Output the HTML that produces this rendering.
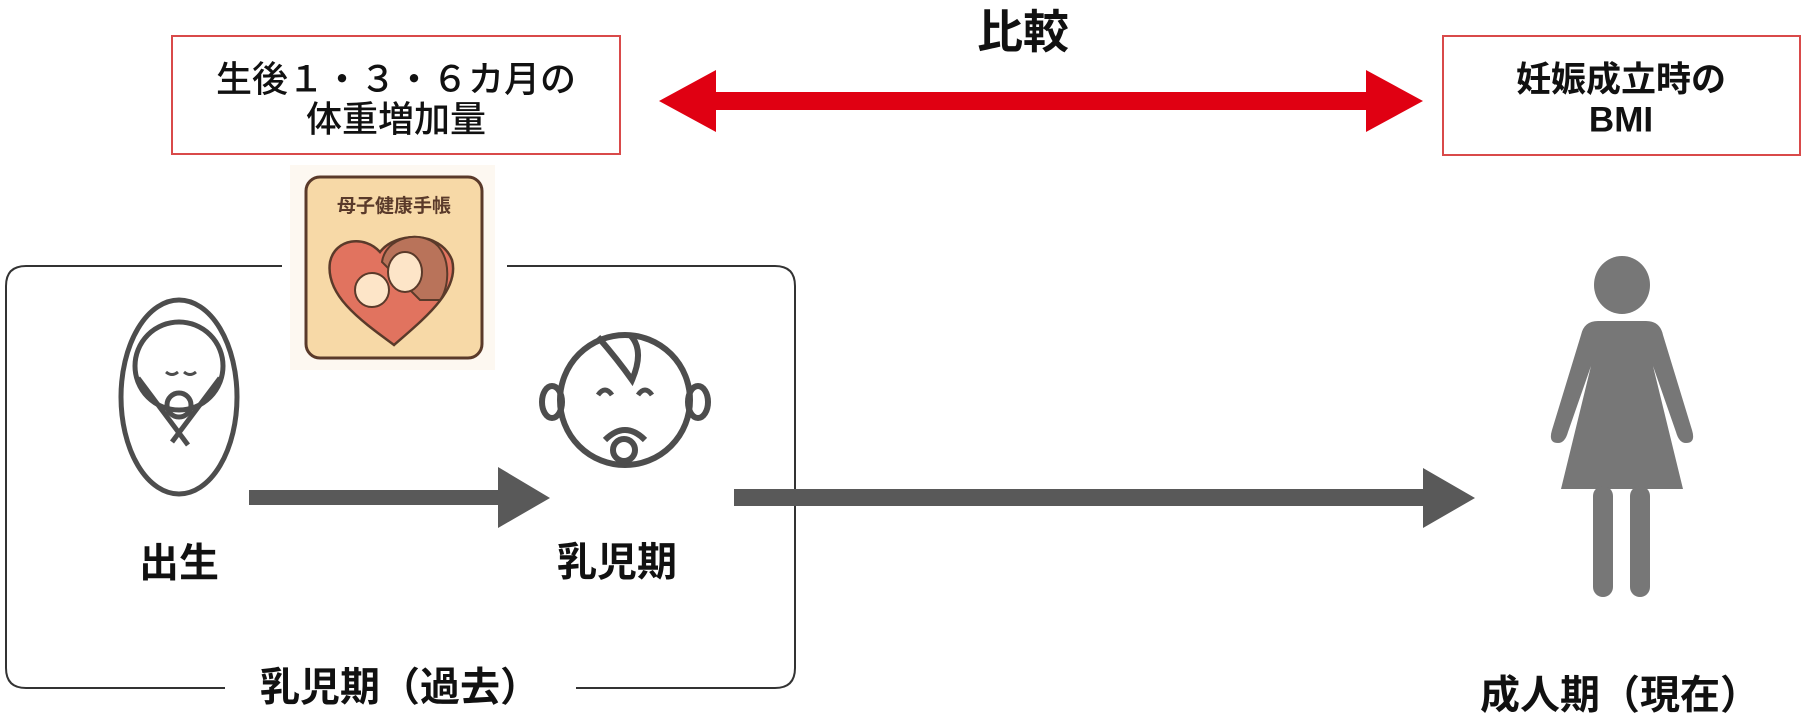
<!DOCTYPE html>
<html><head><meta charset="utf-8"><style>
html,body{margin:0;padding:0;background:#fff;}
svg{display:block;}
text{font-family:"Liberation Sans","Noto Sans CJK JP",sans-serif;font-weight:bold;fill:#111;}
</style></head><body>
<svg width="1806" height="720" viewBox="0 0 1806 720" xmlns="http://www.w3.org/2000/svg">
<rect x="172" y="36" width="448" height="118" fill="#fff" stroke="#d94a4a" stroke-width="2"/>
<text x="396" y="82" font-size="36" text-anchor="middle" dominant-baseline="middle" style="font-weight:500">生後１・３・６カ月の</text>
<text x="396" y="122" font-size="36" text-anchor="middle" dominant-baseline="middle" style="font-weight:500">体重増加量</text>
<rect x="1443" y="36" width="357" height="119" fill="#fff" stroke="#d94a4a" stroke-width="2"/>
<text x="1621" y="82" font-size="35" text-anchor="middle" dominant-baseline="middle" font-weight="normal">妊娠成立時の</text>
<text x="1621" y="122" font-size="35" text-anchor="middle" dominant-baseline="middle" font-weight="normal">BMI</text>
<text x="1023" y="36" font-size="46" text-anchor="middle" dominant-baseline="middle">比較</text>
<polygon points="659,101 716,70 716,92 1366,92 1366,70 1423,101 1366,132 1366,110 716,110 716,132" fill="#e00012"/>
<path d="M282,266 H26 Q6,266 6,286 V668 Q6,688 26,688 H225" fill="none" stroke="#333" stroke-width="2"/>
<path d="M507,266 H775 Q795,266 795,286 V668 Q795,688 775,688 H576" fill="none" stroke="#333" stroke-width="2"/>
<text x="400" y="690" font-size="40" text-anchor="middle" dominant-baseline="middle">乳児期（過去）</text>
<rect x="290" y="165" width="205" height="205" fill="#fdf8f1"/>
<rect x="306" y="177" width="176" height="181" rx="14" fill="#f7d9a7" stroke="#5a3a2a" stroke-width="3"/>
<text x="394" y="207" font-size="19" text-anchor="middle" dominant-baseline="middle" style="fill:#5a3a2a">母子健康手帳</text>
<path d="M394,345 C360,320 325,295 330,262 C335,238 365,235 380,252 C395,232 440,230 452,260 C460,290 425,318 394,345 Z" fill="#e1735f" stroke="#5a3a2a" stroke-width="2.5"/>
<path d="M382,262 C385,238 420,228 438,246 C452,262 448,290 440,300 L420,300 Z" fill="#b9735a" stroke="#5a3a2a" stroke-width="2"/>
<ellipse cx="405" cy="272" rx="17" ry="20" fill="#fde5c8" stroke="#5a3a2a" stroke-width="2"/>
<circle cx="372" cy="290" r="17" fill="#fde5c8" stroke="#5a3a2a" stroke-width="2"/>
<g fill="none" stroke="#4d4d4d" stroke-width="5">
<ellipse cx="179" cy="397" rx="58" ry="97"/>
<circle cx="179" cy="366" r="44"/>
<path d="M138,378 L188,445"/>
<path d="M220,378 L172,442"/>
<circle cx="179" cy="405" r="12"/>
<path d="M166,372 q6,5 12,0 M184,372 q6,5 12,0" stroke-width="3"/>
</g>
<g fill="none" stroke="#4d4d4d" stroke-width="6">
<circle cx="625" cy="400" r="65"/>
<ellipse cx="552" cy="402" rx="10" ry="16"/>
<ellipse cx="698" cy="402" rx="10" ry="16"/>
<path d="M598,337 Q618,360 632,380 Q645,350 630,335"/>
<path d="M598,395 q7,-10 14,0 M638,395 q7,-10 14,0" stroke-width="5"/>
<path d="M605,440 q20,-20 40,0"/>
<circle cx="624" cy="450" r="11"/>
</g>
<polygon points="249,490 498,490 498,467 550,498 498,528 498,505 249,505" fill="#595959"/>
<polygon points="734,489 1423,489 1423,468 1475,498 1423,528 1423,506 734,506" fill="#595959"/>
<text x="179" y="566" font-size="40" text-anchor="middle" dominant-baseline="middle">出生</text>
<text x="617" y="565" font-size="40" text-anchor="middle" dominant-baseline="middle">乳児期</text>
<text x="1620" y="698" font-size="40" text-anchor="middle" dominant-baseline="middle">成人期（現在）</text>
<g fill="#777">
<ellipse cx="1622" cy="285" rx="28" ry="29"/>
<path d="M1598,321 H1646 Q1660,321 1663,335 L1692,430 Q1696,443 1686,443 Q1679,443 1676,432 L1653,366 L1683,489 H1561 L1591,366 L1568,432 Q1565,443 1558,443 Q1548,443 1552,430 L1581,335 Q1584,321 1598,321 Z"/>
<rect x="1593" y="486" width="20" height="111" rx="10"/>
<rect x="1630" y="486" width="20" height="111" rx="10"/>
</g>
</svg>
</body></html>
